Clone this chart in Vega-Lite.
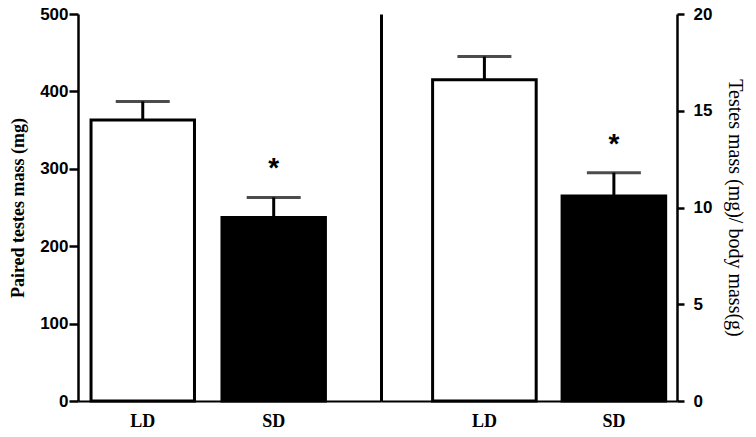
{
  "$schema": "https://vega.github.io/schema/vega-lite/v6.json",
  "autosize": {"type": "pad"},
  "padding": {"left": 9, "top": 5, "right": 0, "bottom": 0},
  "bounds": "flush",
  "spacing": 0,
  "background": "white",
  "config": {
    "view": {"stroke": null},
    "axis": {"domainColor": "black", "tickColor": "black", "labelColor": "black", "titleColor": "black", "grid": false}
  },
  "datasets": {
    "left": [
      {"group": "LD", "mean": 363, "upper": 387, "sig": ""},
      {"group": "SD", "mean": 237, "upper": 263, "sig": "*"}
    ],
    "right": [
      {"group": "LD", "mean": 16.6, "upper": 17.8, "sig": ""},
      {"group": "SD", "mean": 10.6, "upper": 11.8, "sig": "*"}
    ]
  },
  "hconcat": [
    {
      "width": 303,
      "height": 387,
      "data": {"name": "left"},
      "encoding": {
        "x": {"field": "group", "type": "nominal",
          "scale": {"domain": ["LD", "SD"], "paddingInner": 0.21, "paddingOuter": 0.262, "align": 0.19},
          "axis": {"title": null, "ticks": false, "labelAngle": 0, "labelFont": "Liberation Serif", "labelFontWeight": "bold", "labelFontSize": 18, "labelPadding": 11, "domainWidth": 2}
        }
      },
      "layer": [
        {
          "mark": {"type": "bar", "stroke": "black", "strokeWidth": 3},
          "encoding": {
            "y": {"field": "mean", "type": "quantitative",
              "scale": {"domain": [0, 500], "nice": false},
              "axis": {"orient": "left", "values": [0, 100, 200, 300, 400, 500], "tickSize": 9, "tickWidth": 2.5, "domainWidth": 2.5,
                "labelFont": "Liberation Sans", "labelFontWeight": "bold", "labelFontSize": 17, "labelPadding": 1,
                "title": "Paired testes mass (mg)", "titleFont": "Liberation Serif", "titleFontSize": 18, "titleFontWeight": "bold", "titlePadding": 12}
            },
            "fill": {"field": "group", "type": "nominal", "scale": {"domain": ["LD", "SD"], "range": ["white", "black"]}, "legend": null}
          }
        },
        {
          "mark": {"type": "rule", "color": "black", "strokeWidth": 3},
          "encoding": {
            "y": {"field": "mean", "type": "quantitative"},
            "y2": {"field": "upper"}
          }
        },
        {
          "mark": {"type": "tick", "color": "black", "thickness": 3, "size": 54},
          "encoding": {
            "y": {"field": "upper", "type": "quantitative"}
          }
        },
        {
          "mark": {"type": "text", "font": "Liberation Sans", "fontWeight": "bold", "fontSize": 28, "baseline": "middle", "dy": -28, "color": "black"},
          "encoding": {
            "y": {"field": "upper", "type": "quantitative"},
            "text": {"field": "sig"}
          }
        }
      ]
    },
    {
      "width": 296,
      "height": 387,
      "data": {"name": "right"},
      "encoding": {
        "x": {"field": "group", "type": "nominal",
          "scale": {"domain": ["LD", "SD"], "paddingInner": 0.2, "paddingOuter": 0.243, "align": 0.82},
          "axis": {"title": null, "ticks": false, "labelAngle": 0, "labelFont": "Liberation Serif", "labelFontWeight": "bold", "labelFontSize": 18, "labelPadding": 11, "domainWidth": 2}
        }
      },
      "resolve": {"axis": {"y": "independent"}},
      "layer": [
        {
          "mark": {"type": "bar", "stroke": "black", "strokeWidth": 3},
          "encoding": {
            "y": {"field": "mean", "type": "quantitative",
              "scale": {"domain": [0, 20], "nice": false},
              "axis": {"orient": "right", "values": [0, 5, 10, 15, 20], "tickSize": 7, "tickWidth": 2.5, "domainWidth": 2.5,
                "labelFont": "Liberation Sans", "labelFontWeight": "bold", "labelFontSize": 17, "labelPadding": 9,
                "title": "Testes mass (mg)/ body mass(g)", "titleFont": "Liberation Serif", "titleFontSize": 20, "titleFontWeight": "normal", "titleAngle": 90, "titlePadding": 13}
            },
            "fill": {"field": "group", "type": "nominal", "scale": {"domain": ["LD", "SD"], "range": ["white", "black"]}, "legend": null}
          }
        },
        {
          "mark": {"type": "rule", "color": "black", "strokeWidth": 3},
          "encoding": {
            "y": {"field": "mean", "type": "quantitative",
              "axis": {"orient": "left", "labels": false, "ticks": false, "title": null, "domainWidth": 3}},
            "y2": {"field": "upper"}
          }
        },
        {
          "mark": {"type": "tick", "color": "black", "thickness": 3, "size": 54},
          "encoding": {
            "y": {"field": "upper", "type": "quantitative", "axis": null}
          }
        },
        {
          "mark": {"type": "text", "font": "Liberation Sans", "fontWeight": "bold", "fontSize": 28, "baseline": "middle", "dy": -28, "color": "black"},
          "encoding": {
            "y": {"field": "upper", "type": "quantitative", "axis": null},
            "text": {"field": "sig"}
          }
        }
      ]
    }
  ]
}
